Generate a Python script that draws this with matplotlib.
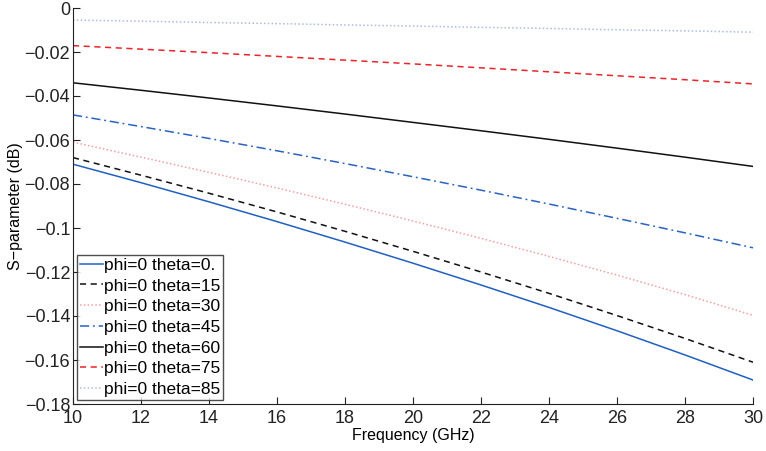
import matplotlib
matplotlib.use("Agg")
import matplotlib.pyplot as plt
from matplotlib.ticker import FuncFormatter

freq = [10, 12, 14, 16, 18, 20, 22, 24, 26, 28, 30]
theta0 = [-0.071, -0.0794, -0.0881, -0.0971, -0.1064, -0.1160, -0.1259, -0.1361, -0.1467, -0.1577, -0.1691]
theta15 = [-0.068, -0.076, -0.0842, -0.0927, -0.1015, -0.1106, -0.1200, -0.1297, -0.1398, -0.1502, -0.1610]
theta30 = [-0.061, -0.0678, -0.0747, -0.0818, -0.0892, -0.0968, -0.1047, -0.1129, -0.1214, -0.1303, -0.1397]
theta45 = [-0.0486, -0.0539, -0.0593, -0.0649, -0.0707, -0.0767, -0.0828, -0.0891, -0.0956, -0.1022, -0.1090]
theta60 = [-0.034, -0.0374, -0.0409, -0.0445, -0.0482, -0.052, -0.0558, -0.0597, -0.0637, -0.0678, -0.072]
theta75 = [-0.0171, -0.0187, -0.0203, -0.022, -0.0237, -0.0254, -0.0272, -0.029, -0.0308, -0.0326, -0.0345]
theta85 = [-0.0055, -0.0060, -0.0066, -0.0071, -0.0077, -0.0082, -0.0088, -0.0093, -0.0099, -0.0104, -0.0110]
labels = ["phi=0 theta=0.", "phi=0 theta=15", "phi=0 theta=30", "phi=0 theta=45",
          "phi=0 theta=60", "phi=0 theta=75", "phi=0 theta=85"]

plt.rcParams['font.family'] = ['Liberation Sans', 'DejaVu Sans']

fig = plt.figure(figsize=(7.66, 4.51), dpi=100)
ax = fig.add_axes([73/766, 1-404/451, 680/766, 396/451])

series = [theta0, theta15, theta30, theta45, theta60, theta75, theta85]
styles = [("#2060c0", "-"), ("#111111", (0, (4, 3))), ("#f4a0a0", (0, (1, 1.5))),
          ("#2a62c4", (0, (6, 2.5, 1.2, 2.5))), ("#111111", "-"), ("#e8252a", (0, (4, 3))),
          ("#a9bde2", (0, (1, 1.5)))]
for s, (c, ls), lab in zip(series, styles, labels):
    ax.plot(freq, s, color=c, linestyle=ls, linewidth=1.1, label=lab)

ax.set_xlim(10, 30)
ax.set_ylim(-0.18, 0)
ax.set_xticks(range(10, 31, 2))
ax.set_yticks([-0.18 + 0.02 * i for i in range(10)])
ax.yaxis.set_major_formatter(FuncFormatter(lambda v, p: ("%g" % round(v, 4)).replace("-", "\u2212")))
ax.spines['top'].set_visible(False)
ax.spines['right'].set_visible(False)
for sp in ['left', 'bottom']:
    ax.spines[sp].set_color('#222222')
ax.tick_params(direction='in', length=5, labelsize=13, colors='#222222')
ax.tick_params(axis='y', pad=2)
ax.tick_params(axis='x', pad=4)
ax.set_xlabel("Frequency (GHz)", fontsize=11.5, labelpad=1)
ax.set_ylabel("S\u2212parameter (dB)", fontsize=11.5, labelpad=1)

leg = ax.legend(loc='lower left', fontsize=12.5, frameon=True, fancybox=False,
                edgecolor='#222222', handlelength=1.3, handletextpad=0.1,
                borderpad=0.15, labelspacing=0.32, borderaxespad=0.25)
leg.get_frame().set_linewidth(1.0)

fig.savefig("out.png", dpi=100)
